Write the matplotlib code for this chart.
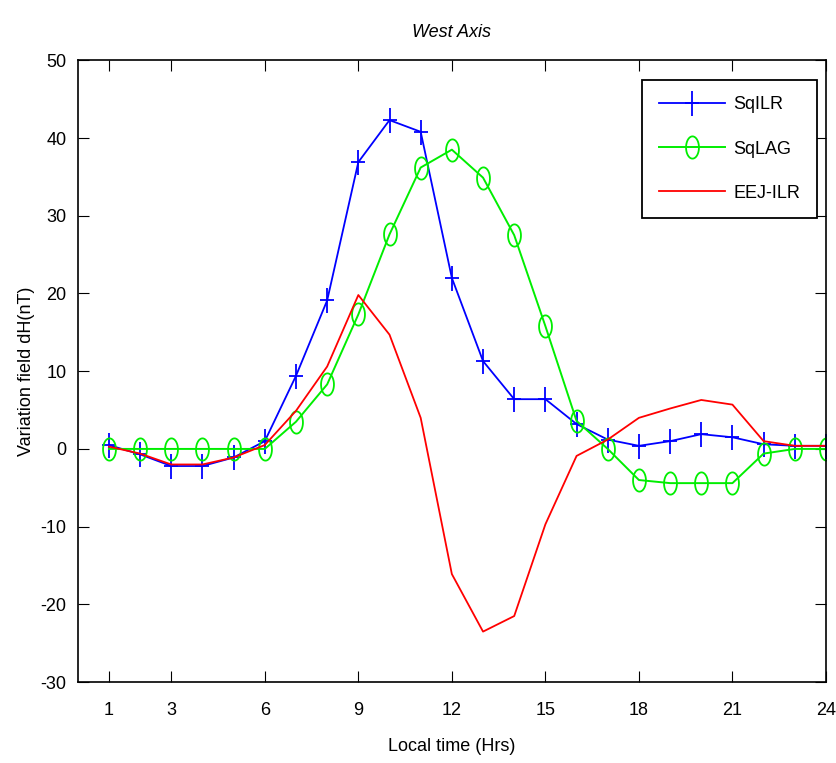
import matplotlib.pyplot as plt
import numpy as np
from matplotlib.path import Path

plt.rcParams['font.family'] = ['Liberation Sans', 'DejaVu Sans']
plt.rcParams['axes.unicode_minus'] = False

hours = np.arange(1, 25)
sq_ilr = [0.5, -0.7, -2.2, -2.2, -1.1, 1.0, 9.4, 19.1, 36.9, 42.3, 40.8, 22.0,
          11.3, 6.4, 6.4, 3.2, 1.2, 0.4, 1.0, 1.9, 1.5, 0.6, 0.4, 0.4]
sq_lag = [0, 0, 0, 0, 0, 0, 3.5, 8.3, 17.3, 27.6, 36.2, 38.5,
          34.9, 27.5, 15.8, 3.6, 0, -4.0, -4.4, -4.4, -4.4, -0.6, 0, 0]
eej_ilr = [0.3, -0.6, -2.0, -2.0, -1.1, 0.5, 4.9, 10.6, 19.8, 14.7, 4.0, -16.1,
           -23.5, -21.5, -9.7, -0.9, 1.2, 4.0, 5.2, 6.3, 5.7, 1.0, 0.4, 0.4]
xticks = [1, 3, 6, 9, 12, 15, 18, 21, 24]

# stretched markers (the original picture is squeezed sideways)
t = np.linspace(0, 2 * np.pi, 60)
ellipse = Path(np.column_stack([0.58 * np.cos(t), np.sin(t)]), closed=True)
plus = Path([(-0.55, 0), (0.55, 0), (0, -1), (0, 1)],
            [Path.MOVETO, Path.LINETO, Path.MOVETO, Path.LINETO])

fig = plt.figure(figsize=(8.36, 7.63), dpi=100)
ax = fig.add_axes([0.093, 0.106, 0.895, 0.815])

ax.plot(hours, sq_ilr, color='#0000ff', marker=plus, markersize=18, mew=1.3, lw=1.3, label='SqILR')
ax.plot(hours, sq_lag, color='#00ee00', marker=ellipse, markersize=16, mfc='none', mew=1.3, lw=1.4, label='SqLAG')
ax.plot(hours, eej_ilr, color='#ff0000', lw=1.3, label='EEJ-ILR')

ax.set_xlim(0, 24)
ax.set_ylim(-30, 50)
ax.set_xticks(xticks)
ax.set_yticks(np.arange(-30, 51, 10))
ax.tick_params(direction='in', top=True, right=True, length=8, labelsize=13)
ax.tick_params(axis='x', pad=14)
ax.tick_params(axis='y', pad=8)
for s in ax.spines.values():
    s.set_linewidth(1.2)

ax.set_title('West Axis', style='italic', fontsize=13, pad=17)
ax.set_xlabel('Local time (Hrs)', fontsize=13, labelpad=14)
ax.set_ylabel('Variation field dH(nT)', fontsize=13, labelpad=4)

leg = ax.legend(loc='upper right', bbox_to_anchor=(0.9875, 0.968), fontsize=13, fancybox=False,
                edgecolor='black', framealpha=1, handlelength=3.7, borderpad=0.9,
                labelspacing=1.5, handletextpad=0.45, borderaxespad=0)
leg.get_frame().set_linewidth(1.3)

plt.savefig('out.png', dpi=100)
